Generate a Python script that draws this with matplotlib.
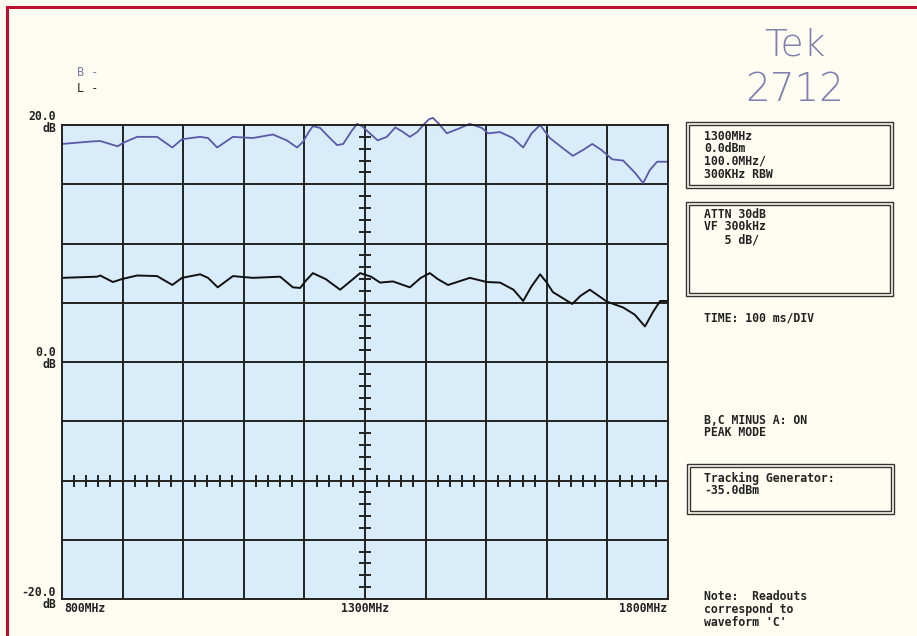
import numpy as np
import matplotlib
matplotlib.use('Agg')
import matplotlib.pyplot as plt
from matplotlib.patches import Rectangle
from matplotlib.lines import Line2D

# trace B (blue): MHz, dB
freq_b = [800, 846, 863, 892, 901, 924, 957, 982, 998, 1028, 1041, 1056, 1082, 1115,
          1148, 1171, 1188, 1198, 1207, 1214, 1226, 1240, 1254, 1264, 1278, 1287, 1295,
          1310, 1321, 1336, 1350, 1363, 1374, 1386, 1398, 1406, 1412, 1422, 1435, 1455,
          1473, 1493, 1503, 1523, 1544, 1561, 1575, 1589, 1605, 1625, 1643, 1660, 1675,
          1690, 1708, 1726, 1745, 1759, 1770, 1782, 1800]
db_b = [18.4, 18.6, 18.65, 18.2, 18.5, 19.0, 19.0, 18.1, 18.8, 19.0, 18.9, 18.1, 19.0, 18.9,
        19.2, 18.7, 18.1, 18.6, 19.4, 19.9, 19.75, 19.0, 18.3, 18.4, 19.5, 20.1, 19.9,
        19.2, 18.7, 19.0, 19.8, 19.4, 19.0, 19.4, 20.1, 20.5, 20.6, 20.1, 19.3, 19.7,
        20.1, 19.75, 19.3, 19.4, 18.9, 18.1, 19.3, 20.0, 18.9, 18.1, 17.4, 17.9, 18.4,
        17.9, 17.1, 17.0, 16.0, 15.1, 16.2, 16.9, 16.9]

# trace C (black)
freq_c = [800, 858, 863, 884, 899, 924, 957, 982, 998, 1028, 1041, 1057, 1082, 1115,
          1160, 1181, 1193, 1203, 1214, 1235, 1259, 1278, 1292, 1310, 1325, 1346, 1374,
          1392, 1407, 1420, 1437, 1473, 1501, 1523, 1545, 1561, 1575, 1589, 1600, 1610,
          1642, 1656, 1671, 1699, 1726, 1745, 1762, 1775, 1787, 1800]
db_c = [7.1, 7.2, 7.3, 6.75, 7.0, 7.3, 7.25, 6.5, 7.1, 7.4, 7.1, 6.3, 7.25, 7.1,
        7.2, 6.3, 6.25, 6.9, 7.5, 7.0, 6.1, 6.9, 7.5, 7.2, 6.7, 6.8, 6.3,
        7.1, 7.5, 7.0, 6.5, 7.1, 6.75, 6.7, 6.1, 5.15, 6.4, 7.4, 6.7, 5.9,
        4.9, 5.6, 6.1, 5.1, 4.6, 4.0, 3.0, 4.2, 5.15, 5.15]

W, H = 917, 636
BG = '#fffdf2'
FONT = 'DejaVu Sans Mono'


def fx(x):
    return x / W


def fy(y):
    return 1 - y / H


fig = plt.figure(figsize=(9.17, 6.36), dpi=100, facecolor=BG)
ax = fig.add_axes([fx(62), fy(599), fx(668) - fx(62), fy(125) - fy(599)])
ax.set_facecolor('#d9ecfa')
ax.set_xlim(800, 1800)
ax.set_ylim(-20, 20)
ax.set_xticks([])
ax.set_yticks([])
for s in ax.spines.values():
    s.set_linewidth(1.4)
    s.set_color('#222222')

# graticule
for f in np.arange(900, 1800, 100):
    ax.axvline(f, color='#222222', lw=1.4)
for d in np.arange(-15, 20, 5):
    ax.axhline(d, color='#222222', lw=1.4)

# minor ticks on centre line and -10 dB line
yt = [v for v in np.arange(-20, 21, 1) if v % 5 != 0]
ax.plot([1300] * len(yt), yt, ls='none', marker='_', ms=9, mew=1.4, color='#222222')
xt = [v for v in np.arange(800, 1801, 20) if v % 100 != 0]
ax.plot(xt, [-10] * len(xt), ls='none', marker='|', ms=8, mew=1.4, color='#222222')

ax.plot(freq_b, db_b, color='#5a5aa8', lw=1.3, clip_on=False)
ax.plot(freq_c, db_c, color='#111111', lw=1.4, clip_on=False)

txt = dict(fontfamily=FONT, fontweight='bold', fontsize=8.3, color='#222222')

# left labels
fig.text(fx(77), fy(72), 'B -', color='#7a78a8', fontfamily=FONT, fontsize=8.5, va='center')
fig.text(fx(77), fy(89), 'L -', color='#222222', fontfamily=FONT, fontsize=8.5, va='center')
for lab, y in [('20.0', 117), ('0.0', 353), ('-20.0', 592)]:
    fig.text(fx(56), fy(y), lab, ha='right', va='center', **txt)
    fig.text(fx(56), fy(y + 12), 'dB', ha='right', va='center', **txt)
fig.text(fx(64), fy(608), '800MHz', ha='left', va='center', **txt)
fig.text(fx(365), fy(608), '1300MHz', ha='center', va='center', **txt)
fig.text(fx(667), fy(608), '1800MHz', ha='right', va='center', **txt)

# Tek logo
fig.text(fx(795), fy(45), 'Tek', ha='center', va='center', fontsize=27,
         fontweight='light', color='#8080b0', fontfamily='DejaVu Sans')
fig.text(fx(795), fy(90), '2712', ha='center', va='center', fontsize=28,
         fontweight='light', color='#8080b0', fontfamily='DejaVu Sans')


def box(x0, y0, x1, y1):
    for pad in (0, 3):
        r = Rectangle((fx(x0 + pad), fy(y1 - pad)), fx(x1 - x0 - 2 * pad), (y1 - y0 - 2 * pad) / H,
                      transform=fig.transFigure, fill=False, ec='#333333', lw=1.0)
        fig.add_artist(r)


box(686, 122, 893, 188)
box(686, 202, 893, 296)
box(687, 464, 894, 514)

x_t = 704
for lab, y in [('1300MHz', 137), ('0.0dBm', 149), ('100.0MHz/', 161), ('300KHz RBW', 174),
               ('ATTN 30dB', 214), ('VF 300kHz', 227), ('   5 dB/', 240),
               ('TIME: 100 ms/DIV', 318),
               ('B,C MINUS A: ON', 420), ('PEAK MODE', 433),
               ('Tracking Generator:', 478), ('-35.0dBm', 491),
               ('Note:  Readouts', 596), ('correspond to', 610), ("waveform 'C'", 623)]:
    fig.text(fx(x_t), fy(y), lab, ha='left', va='center', **txt)

# red frame
fig.add_artist(Line2D([fx(7), 1], [fy(7), fy(7)], color='#bb1030', lw=2.2, transform=fig.transFigure))
fig.add_artist(Line2D([fx(7), fx(7)], [fy(7), 0], color='#bb1030', lw=2.2, transform=fig.transFigure))

fig.savefig('out.png', dpi=100, facecolor=BG)
